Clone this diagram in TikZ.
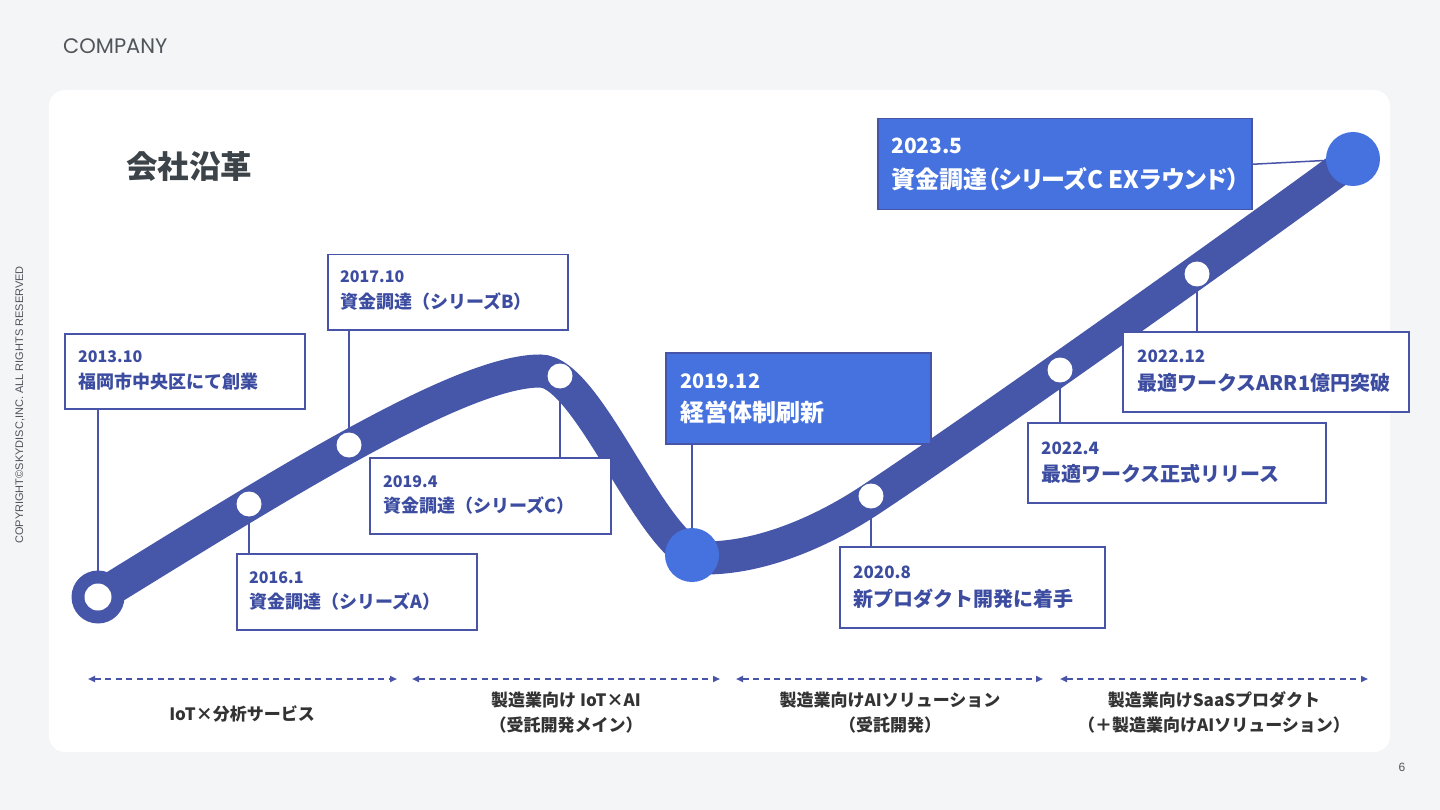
\documentclass[tikz,border=0pt]{standalone}
\usepackage{fontspec}
\setmainfont{Noto Sans CJK JP}
\newfontfamily\cjkp[RawFeature=+palt]{Noto Sans CJK JP}
\newfontfamily\poppinsfont{Poppins}
\newfontfamily\arialfont{Liberation Sans}
\usetikzlibrary{arrows.meta}
\definecolor{pagebg}{RGB}{244,245,247}
\definecolor{bandc}{RGB}{70,86,168}
\definecolor{hilite}{RGB}{69,114,222}
\definecolor{boxline}{RGB}{72,84,168}
\definecolor{boxtext}{RGB}{60,76,160}
\definecolor{labeltext}{RGB}{51,51,51}
\definecolor{titletext}{RGB}{61,68,73}
\definecolor{graytext}{RGB}{80,85,90}
\pgfdeclarelayer{behind}
\pgfdeclarelayer{bandlayer}
\pgfsetlayers{behind,bandlayer,main}
\begin{document}
\begin{tikzpicture}[x=1pt,y=-1pt,
  box/.style={draw=boxline, line width=1.5pt, fill=white, rectangle, inner sep=0pt, anchor=north west},
  hbox/.style={box, fill=hilite},
  datetxt/.style={anchor=base west, inner sep=0pt, text=boxtext, font=\bfseries\fontsize{16}{18}\selectfont},
  evtxt/.style={anchor=base west, inner sep=0pt, text=boxtext, font=\bfseries\fontsize{18}{20}\selectfont},
  datetxtb/.style={datetxt, font=\bfseries\fontsize{17}{19}\selectfont},
  evtxtb/.style={evtxt, font=\bfseries\fontsize{20}{22}\selectfont},
  hdate/.style={anchor=base west, inner sep=0pt, text=white, font=\bfseries\fontsize{20}{22}\selectfont},
  hev/.style={anchor=base west, inner sep=0pt, text=white, font=\bfseries\fontsize{24}{26}\selectfont},
  conn/.style={draw=boxline, line width=1.5pt},
  bandline/.style={draw=bandc, line width=33pt},
  wdot/.style={circle, fill=white, minimum size=25pt, inner sep=0pt},
  hdot/.style={circle, fill=hilite, minimum size=54pt, inner sep=0pt},
  ringdot/.style={circle, fill=bandc, minimum size=53pt, inner sep=0pt},
  darrow/.style={draw=boxline, line width=1.8pt, dash pattern=on 6pt off 4.5pt,
    {Triangle[length=7pt,width=6pt]}-{Triangle[length=7pt,width=6pt]}},
  period/.style={align=center, text=labeltext, font=\bfseries\fontsize{17}{25}\selectfont, inner sep=0pt}
]
\useasboundingbox (0,0) rectangle (1440,810);
\begin{pgfonlayer}{behind}
\fill[pagebg] (0,0) rectangle (1440,810);
\fill[white, rounded corners=16pt] (49,90) rectangle (1390,752);
\end{pgfonlayer}

% header texts
\node[anchor=base west, inner sep=0pt, text=graytext, font=\poppinsfont\fontsize{21}{22}\selectfont] (company) at (63,54) {COMPANY};
\node[anchor=west, inner sep=0pt, text=titletext, font=\bfseries\fontsize{31.5}{34}\selectfont] (title) at (126,167) {会社沿革};
\node[rotate=90, inner sep=0pt, text=graytext, font=\arialfont\fontsize{11}{12}\selectfont] (copy) at (20,405) {COPYRIGHT©SKYDISC,INC. ALL RIGHTS RESERVED};
\node[inner sep=0pt, text=graytext, font=\arialfont\fontsize{12}{14}\selectfont] (pagenum) at (1402,767) {6};

% band
\begin{pgfonlayer}{bandlayer}
\draw[bandline] (98,597) .. controls (278,486) and (460,371) .. (540,371)
  .. controls (590,371) and (655,558) .. (705,558)
  .. controls (760,558) and (820,533) .. (870,500)
  .. controls (970,434) and (1253,233) .. (1353,159);
\end{pgfonlayer}

% dots
\node[ringdot] (d1) at (98,597) {};
\node[circle, fill=white, minimum size=27pt, inner sep=0pt] (d1in) at (98,597) {};
\node[wdot] (d2) at (249,504) {};
\node[wdot] (d3) at (349,445) {};
\node[wdot] (d4) at (560,376) {};
\node[hdot] (d5) at (692,555) {};
\node[wdot] (d6) at (871,496) {};
\node[wdot] (d7) at (1060,370) {};
\node[wdot] (d8) at (1197,274) {};
\node[hdot] (d9) at (1353,159) {};

% boxes
\node[box, minimum width=240pt, minimum height=75pt] (b1) at (64,333) {};
\node[datetxt] (t1a) at (78,362) {2013.10};
\node[evtxt] (t1b) at (78,388) {福岡市中央区にて創業};

\node[box, minimum width=240pt, minimum height=76pt] (b2) at (236,553) {};
\node[datetxt] (t2a) at (249,583) {2016.1};
\node[evtxt] (t2b) at (249,608.5) {資金調達（シリーズA）};

\node[box, minimum width=240pt, minimum height=75pt] (b3) at (327,254) {};
\node[datetxt] (t3a) at (340,283) {2017.10};
\node[evtxt] (t3b) at (340,308.5) {資金調達（シリーズB）};

\node[box, minimum width=241pt, minimum height=76pt] (b4) at (369,457) {};
\node[datetxt] (t4a) at (383,487) {2019.4};
\node[evtxt] (t4b) at (383,512.5) {資金調達（シリーズC）};

\node[hbox, minimum width=265pt, minimum height=91pt] (b5) at (665,352) {};
\node[hdate] (t5a) at (680,388) {2019.12};
\node[hev] (t5b) at (680,421.5) {経営体制刷新};

\node[box, minimum width=265pt, minimum height=81pt] (b6) at (839,546) {};
\node[datetxtb] (t6a) at (853,578) {2020.8};
\node[evtxtb] (t6b) at (853,606) {新プロダクト開発に着手};

\node[box, minimum width=298pt, minimum height=80pt] (b7) at (1027,422) {};
\node[datetxtb] (t7a) at (1041,454) {2022.4};
\node[evtxtb] (t7b) at (1041,481) {最適ワークス正式リリース};

\node[box, minimum width=286pt, minimum height=80pt] (b8) at (1122,331) {};
\node[datetxtb] (t8a) at (1137,362) {2022.12};
\node[evtxtb] (t8b) at (1137,390) {最適ワークスARR1億円突破};

\node[hbox, minimum width=374pt, minimum height=91pt] (b9) at (877,118) {};
\node[hdate, font=\bfseries\fontsize{21}{23}\selectfont] (t9a) at (891,153.5) {2023.5};
\node[hev, font=\cjkp\bfseries\fontsize{24}{26}\selectfont] (t9b) at (891,188.5) {資金調達（シリーズC EXラウンド）};

% connectors
\begin{pgfonlayer}{behind}
\draw[conn] (b1.south -| d1) -- (d1.center);
\draw[conn] (d2.center) -- (d2 |- b2.north);
\draw[conn] (b3.south -| d3) -- (d3.center);
\draw[conn] (d4.center) -- (d4 |- b4.north);
\draw[conn] (b5.south -| d5) -- (d5.center);
\draw[conn] (d6.center) -- (d6 |- b6.north);
\draw[conn] (d7.center) -- (d7 |- b7.north);
\draw[conn] (d8.center) -- (d8 |- b8.north);
\draw[conn] (b9.east) -- (d9.center);
\end{pgfonlayer}

% period arrows
\coordinate (a1s) at (88,679);  \coordinate (a1e) at (397,679);
\coordinate (a2s) at (412,679); \coordinate (a2e) at (720,679);
\coordinate (a3s) at (736,679); \coordinate (a3e) at (1043,679);
\coordinate (a4s) at (1060,679);\coordinate (a4e) at (1368,679);
\draw[darrow] (a1s) -- (a1e);
\draw[darrow] (a2s) -- (a2e);
\draw[darrow] (a3s) -- (a3e);
\draw[darrow] (a4s) -- (a4e);

\node[period] (p1) at (242,714) {IoT×分析サービス};
\node[period] (p2) at (566,712.5) {製造業向け IoT×AI\\（受託開発メイン）};
\node[period] (p3) at (890,712.5) {製造業向けAIソリューション\\（受託開発）};
\node[period] (p4) at (1214,712.5) {製造業向けSaaSプロダクト\\（＋製造業向けAIソリューション）};
\end{tikzpicture}
\end{document}
